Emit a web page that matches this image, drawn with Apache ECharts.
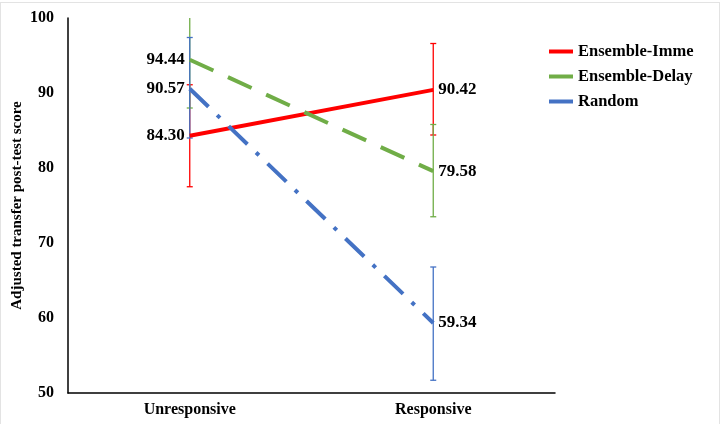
<!DOCTYPE html>
<html>
<head>
<meta charset="utf-8">
<script src="https://cdn.jsdelivr.net/npm/echarts@6/dist/echarts.min.js"></script>
<style>
  html, body { margin: 0; padding: 0; background: #fff; }
  #chart { width: 718px; height: 421px; border: 1px solid #e3e3e3; margin-top: 2px; }
</style>
</head>
<body>
<div id="chart"></div>
<script>
// data
var categories = ['Unresponsive', 'Responsive'];
var seriesNames = ['Ensemble-Imme', 'Ensemble-Delay', 'Random'];
var imme = [84.30, 90.42];
var delay = [94.44, 79.58];
var random = [90.57, 59.34];
// error bar ends [low, high] per category
var immeErr = [[77.5, 91.1], [84.4, 96.6]];
var delayErr = [[88.0, 100.9], [73.5, 85.8]];
var randomErr = [[84.0, 97.4], [51.7, 66.8]];
var yTicks = [50, 60, 70, 80, 90, 100];

var colors = ['#ff0000', '#70ad47', '#4472c4'];
var serif = '"Liberation Serif", "Times New Roman", serif';

var chart = echarts.init(document.getElementById('chart'));

function errSeries(name, errs, color) {
  return {
    name: name,
    type: 'custom',
    clip: true,
    z: 1,
    data: errs.map(function (e, i) { return [i, e[0], e[1]]; }),
    renderItem: function (params, api) {
      var lo = api.coord([api.value(0), api.value(1)]);
      var hi = api.coord([api.value(0), api.value(2)]);
      var w = 3;
      var style = { stroke: color, lineWidth: 1.3 };
      return {
        type: 'group',
        children: [
          { type: 'line', shape: { x1: lo[0], y1: lo[1], x2: hi[0], y2: hi[1] }, style: style },
          { type: 'line', shape: { x1: lo[0] - w, y1: lo[1], x2: lo[0] + w, y2: lo[1] }, style: style },
          { type: 'line', shape: { x1: hi[0] - w, y1: hi[1], x2: hi[0] + w, y2: hi[1] }, style: style }
        ]
      };
    }
  };
}

function lineSeries(name, values, color, dash) {
  return {
    name: name,
    type: 'line',
    // first point labelled on the left, second on the right
    data: values.map(function (v, i) {
      return { value: v, label: { position: i === 0 ? 'left' : 'right' } };
    }),
    symbol: 'circle',
    symbolSize: 0.1,
    showSymbol: true,
    z: 3,
    lineStyle: { color: color, width: 4, type: dash },
    itemStyle: { color: color },
    label: {
      show: true,
      fontFamily: serif,
      fontWeight: 'bold',
      fontSize: 17,
      color: '#000',
      distance: 5,
      formatter: function (p) { return p.value.toFixed(2); }
    }
  };
}

chart.setOption({
  animation: false,
  color: colors,
  grid: { left: 67, right: 164, top: 15, bottom: 31, outerBoundsMode: 'none' },
  legend: {
    orient: 'vertical',
    left: 543,
    top: 35,
    itemWidth: 24,
    itemHeight: 4,
    itemGap: 8,
    icon: 'rect',
    data: seriesNames,
    textStyle: { fontFamily: serif, fontWeight: 'bold', fontSize: 16.5, color: '#000' }
  },
  xAxis: {
    type: 'category',
    data: categories,
    axisLine: { lineStyle: { color: '#000', width: 1.5 } },
    axisTick: { show: false },
    axisLabel: { fontFamily: serif, fontWeight: 'bold', fontSize: 16, color: '#000', margin: 9 }
  },
  yAxis: {
    type: 'value',
    min: yTicks[0],
    max: yTicks[yTicks.length - 1],
    interval: 10,
    name: 'Adjusted transfer post-test score',
    nameLocation: 'middle',
    nameGap: 43,
    nameMoveOverlap: false,
    nameTextStyle: { fontFamily: serif, fontWeight: 'bold', fontSize: 15, color: '#000' },
    axisLine: { show: true, lineStyle: { color: '#000', width: 1.5 } },
    axisTick: { show: false },
    splitLine: { show: false },
    axisLabel: { fontFamily: serif, fontWeight: 'bold', fontSize: 16, color: '#000', margin: 14 }
  },
  series: [
    errSeries(seriesNames[0], immeErr, colors[0]),
    errSeries(seriesNames[1], delayErr, colors[1]),
    errSeries(seriesNames[2], randomErr, colors[2]),
    lineSeries(seriesNames[0], imme, colors[0], 'solid'),
    lineSeries(seriesNames[1], delay, colors[1], [26, 16]),
    lineSeries(seriesNames[2], random, colors[2], [26, 12, 4, 12])
  ]
});
</script>
</body>
</html>
